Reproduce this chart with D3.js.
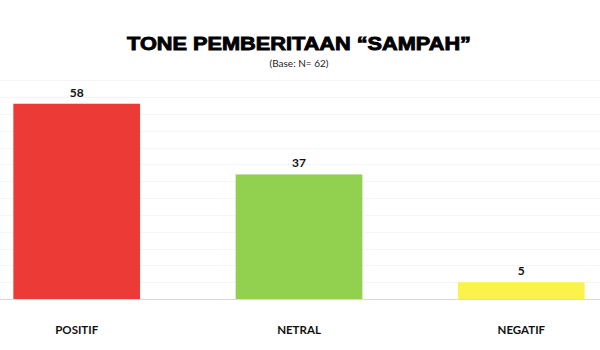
<!DOCTYPE html>
<html><head><meta charset="utf-8">
<script src="https://cdn.jsdelivr.net/npm/d3@7"></script>
<style>body{margin:0;background:#fff}svg{display:block}</style>
</head><body>
<svg id="c" width="600" height="350"></svg>
<script>
const categories = ["POSITIF", "NETRAL", "NEGATIF"];
const values = [58, 37, 5];
const colors = ["#ec3b36", "#92d050", "#fbf34c"];
const gridTicks = [5,10,15,20,25,30,35,40,45,50,55,60,65];
const title = "TONE PEMBERITAAN \u201CSAMPAH\u201D";
const subtitle = "(Base: N= 62)";

const svg = d3.select("#c");
const x = d3.scaleBand().domain(categories).range([0, 598]).paddingInner(0.43).paddingOuter(0.06);
const y = d3.scaleLinear().domain([0, 60]).range([299, 97]);

svg.append("g").selectAll("line").data(gridTicks).join("line")
  .attr("x1", 0).attr("x2", 600)
  .attr("y1", d => Math.round(y(d)) + 0.5).attr("y2", d => Math.round(y(d)) + 0.5)
  .attr("stroke", "#f6f6f6").attr("stroke-width", 1);

svg.append("g").selectAll("rect").data(values).join("rect")
  .attr("x", (d, i) => x(categories[i]))
  .attr("width", x.bandwidth())
  .attr("y", d => y(d))
  .attr("height", d => y(0) - y(d))
  .attr("fill", (d, i) => colors[i]);

svg.append("line").attr("x1", 0).attr("x2", 600).attr("y1", y(0) + 0.5).attr("y2", y(0) + 0.5)
  .attr("stroke", "#d9d9d9").attr("stroke-width", 1);

svg.append("g").selectAll("text").data(values).join("text")
  .attr("x", (d, i) => x(categories[i]) + x.bandwidth() / 2)
  .attr("y", d => y(d) - 7)
  .attr("text-anchor", "middle")
  .attr("font-family", "Lato, 'Open Sans', sans-serif").attr("font-weight", 700).attr("font-size", 12)
  .attr("fill", "#111").text(d => d);

const xAxis = d3.axisBottom(x).tickSize(0).tickPadding(0);
const gx = svg.append("g").attr("transform", `translate(0,${y(0)})`).call(xAxis);
gx.select(".domain").remove();
gx.selectAll("text").attr("y", 27)
  .attr("font-family", "Lato, 'Open Sans', sans-serif").attr("font-weight", 700).attr("font-size", 11.5)
  .attr("fill", "#111");

svg.append("text").attr("x", 299).attr("y", 50).attr("text-anchor", "middle")
  .attr("font-family", "'Liberation Sans', Arial, sans-serif").attr("font-weight", 900).attr("font-size", 19)
  .attr("stroke", "#000").attr("stroke-width", 0.9)
  .attr("textLength", 344).attr("lengthAdjust", "spacingAndGlyphs")
  .attr("fill", "#000").text(title);

svg.append("text").attr("x", 299).attr("y", 67).attr("text-anchor", "middle")
  .attr("font-family", "Lato, 'Open Sans', sans-serif").attr("font-size", 10)
  .attr("fill", "#222").text(subtitle);
</script>
</body></html>
